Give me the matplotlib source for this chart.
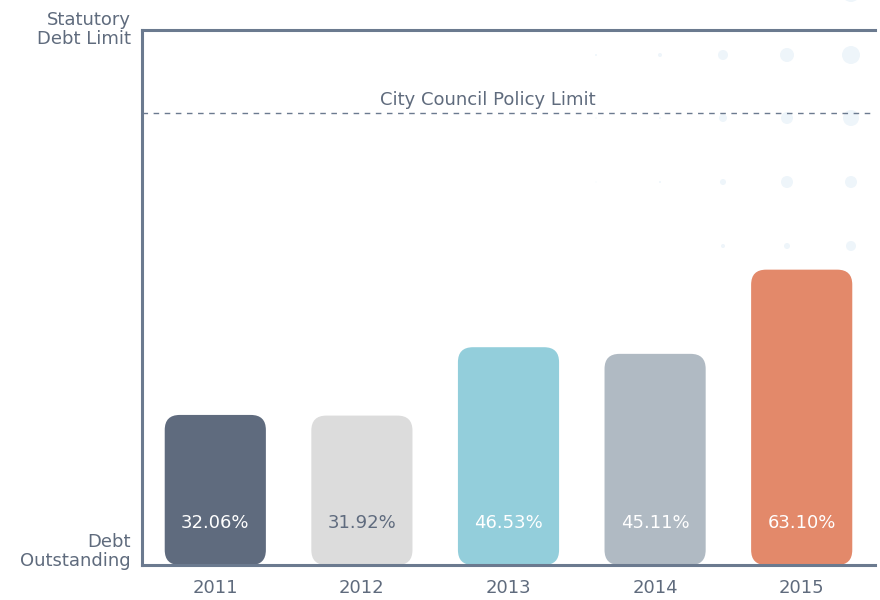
import matplotlib
matplotlib.use("Agg")
import matplotlib.pyplot as plt
from matplotlib.patches import FancyBboxPatch

# data
years = ["2011", "2012", "2013", "2014", "2015"]
debt_pct = [32.06, 31.92, 46.53, 45.11, 63.10]
bar_colors = ["#5f6b7e", "#dcdcdc", "#93cedb", "#b0bac3", "#e3896a"]
label_colors = ["white", "#5f6b7e", "white", "white", "white"]
policy_limit = 96.6
statutory_limit = 114.3

axis_col = "#6b7a8f"
text_col = "#5f6b7d"

plt.rcParams['font.family'] = ['DejaVu Sans']

fig = plt.figure(figsize=(8.8, 6), dpi=100)

# faint decorative dots in the top-right corner (figure pixels)
dot_cols = [596, 660, 723, 787, 851]
dot_rows = [55, 118, 182, 246]
dot_r = [[1, 2, 5, 7, 9],
         [0.7, 1, 4, 6, 8],
         [0.5, 1, 3, 6, 6],
         [0, 0, 2, 3, 5]]
deco = fig.add_axes([0, 0, 1, 1], zorder=0)
deco.set_xlim(0, 880)
deco.set_ylim(600, 0)
deco.axis("off")
for i, yy in enumerate(dot_rows):
    for j, xx in enumerate(dot_cols):
        if dot_r[i][j] > 0:
            deco.add_patch(plt.Circle((xx, yy), dot_r[i][j], color="#eef5fa", lw=0))
deco.add_patch(plt.Circle((851, -7), 9, color="#eef5fa", lw=0))

ax = fig.add_axes([142 / 880, 35 / 600, 733 / 880, 535 / 600], zorder=1)
ax.patch.set_alpha(0)
ax.set_xlim(-0.5, 4.5)
ax.set_ylim(0, statutory_limit)

# rounded bars
width = 0.69
px_x = 733 / 5.0
px_y = 535 / statutory_limit
rad = 15 / px_x
for i, (v, c) in enumerate(zip(debt_pct, bar_colors)):
    box = FancyBboxPatch((i - width / 2, 0), width, v,
                         boxstyle="round,pad=0,rounding_size=%f" % rad,
                         mutation_aspect=px_x / px_y,
                         facecolor=c, edgecolor="none", zorder=2)
    ax.add_patch(box)
    ax.text(i, 9, "%.2f%%" % v, ha="center", va="center", fontsize=13,
            color=label_colors[i], zorder=3)

ax.axhline(policy_limit, color=axis_col, lw=1, ls=(0, (4, 4)), zorder=1)
ax.text(1.86, policy_limit + 0.9, "City Council Policy Limit", ha="center", va="bottom",
        fontsize=13, color=text_col)

ax.spines["right"].set_visible(False)
for s in ["left", "bottom", "top"]:
    ax.spines[s].set_color(axis_col)
    ax.spines[s].set_linewidth(2.2)

ax.set_xticks(range(len(years)))
ax.set_xticklabels(years, fontsize=13, color=text_col)
ax.tick_params(axis="x", length=0, pad=10)
ax.set_yticks([])

fig.text(131 / 880, 1 - 29.5 / 600, "Statutory\nDebt Limit", ha="right", va="center",
         fontsize=13, color=text_col, linespacing=1.12)
fig.text(131 / 880, 1 - 551.5 / 600, "Debt\nOutstanding", ha="right", va="center",
         fontsize=13, color=text_col, linespacing=1.12)

fig.savefig("out.png", dpi=100)
